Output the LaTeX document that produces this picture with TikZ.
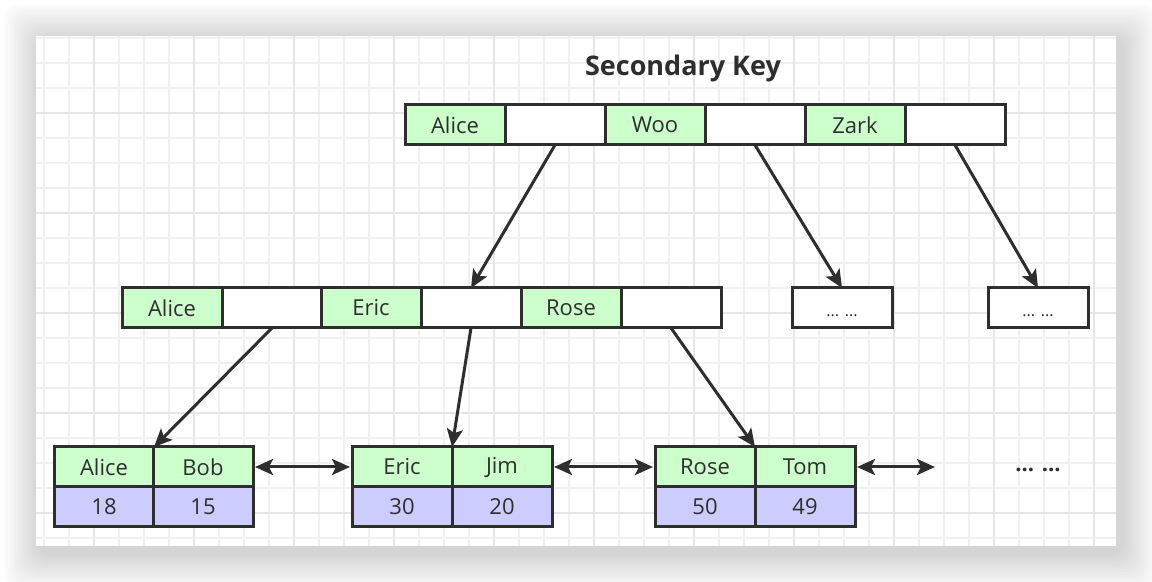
\documentclass[tikz,border=0pt]{standalone}
\usepackage{fontspec}
\setmainfont{Open Sans}
\usetikzlibrary{arrows.meta}

\definecolor{keygreen}{HTML}{CCFFCC}
\definecolor{valblue}{HTML}{CCCCFF}
\definecolor{inkgray}{HTML}{2E2E2E}
\definecolor{gridminor}{HTML}{F0F0F0}
\definecolor{gridmajor}{HTML}{E6E6E6}

\begin{document}
\begin{tikzpicture}[x=0.5pt, y=-0.5pt, font=\fontsize{11}{13}\selectfont,
  cell/.style={draw=inkgray, line width=1.5pt, minimum width=50pt, minimum height=20pt,
    inner sep=0pt, outer sep=0pt, text=inkgray},
  key/.style={cell, fill=keygreen},
  ptr/.style={cell, fill=white},
  val/.style={cell, fill=valblue},
  >={Stealth[length=9pt, width=8pt, inset=2pt]},
  link/.style={draw=inkgray, line width=1.5pt, ->},
  twoway/.style={draw=inkgray, line width=1.5pt, <->, shorten <=1pt, shorten >=1pt}]

\useasboundingbox (0,0) rectangle (1152,582);

% Background and shadow
\fill[white] (0,0) rectangle (1152,582);
\foreach \i in {1,...,14}
  \fill[black, opacity=0.01, rounded corners=8pt] ({40-2.6*\i},{40-2.6*\i}) rectangle ({1122+2.6*\i},{554+2.6*\i});
\fill[white] (36,36) rectangle (1116,546);

% Grid
\begin{scope}
\clip (36,36) rectangle (1116,546);
\foreach \x in {44,69,...,1116} \draw[gridminor, line width=0.8pt] (\x,36) -- (\x,546);
\foreach \y in {38,63,...,546} \draw[gridminor, line width=0.8pt] (36,\y) -- (1116,\y);
\foreach \x in {94,194,...,1094} \draw[gridmajor, line width=0.9pt] (\x,36) -- (\x,546);
\foreach \y in {113,213,...,513} \draw[gridmajor, line width=0.9pt] (36,\y) -- (1116,\y);
\end{scope}

% Title
\node[text=inkgray, font=\bfseries\fontsize{13.5}{16}\selectfont] (title) at (683,68) {Secondary Key};

% Root
\node[key] (rAlice) at (455,125) {Alice};
\node[ptr] (rp1)    at (555,125) {};
\node[key] (rWoo)   at (655,125) {Woo};
\node[ptr] (rp2)    at (755,125) {};
\node[key] (rZark)  at (855,125) {Zark};
\node[ptr] (rp3)    at (955,125) {};

% Inner level
\node[key] (mAlice) at (172,308) {Alice};
\node[ptr] (mp1)    at (272,308) {};
\node[key] (mEric)  at (371,308) {Eric};
\node[ptr] (mp2)    at (471,308) {};
\node[key] (mRose)  at (571,308) {Rose};
\node[ptr] (mp3)    at (671,308) {};
\node[ptr, text height=9pt] (dotsA)  at (842,308) {\fontsize{8}{10}\selectfont ... ...};
\node[ptr, text height=9pt] (dotsB)  at (1038,308) {\fontsize{8}{10}\selectfont ... ...};

% Leaves
\node[key] (l1k1) at (104,467) {Alice};
\node[key] (l1k2) at (203,467) {Bob};
\node[val] (l1v1) at (104,507) {18};
\node[val] (l1v2) at (203,507) {15};

\node[key] (l2k1) at (402,467) {Eric};
\node[key] (l2k2) at (502,467) {Jim};
\node[val] (l2v1) at (402,507) {30};
\node[val] (l2v2) at (502,507) {20};

\node[key] (l3k1) at (705,467) {Rose};
\node[key] (l3k2) at (805,467) {Tom};
\node[val] (l3v1) at (705,507) {50};
\node[val] (l3v2) at (805,507) {49};

\node[text=inkgray, font=\bfseries\fontsize{11}{13}\selectfont] (more) at (1038,470) {... ...};
\coordinate (tail) at (937,467);

% Pointers
\draw[link] (rp1.south) -- (mp2.north);
\draw[link] (rp2.south) -- (dotsA.north);
\draw[link] (rp3.south) -- (dotsB.north);
\draw[link] (mp1.south) -- (l1k1.north east);
\draw[link] (mp2.south) -- (l2k1.north east);
\draw[link] (mp3.south) -- (l3k1.north east);

% Leaf links
\draw[twoway] (l1k2.east) -- (l2k1.west);
\draw[twoway] (l2k2.east) -- (l3k1.west);
\draw[twoway] (l3k2.east) -- (tail);

\end{tikzpicture}
\end{document}
